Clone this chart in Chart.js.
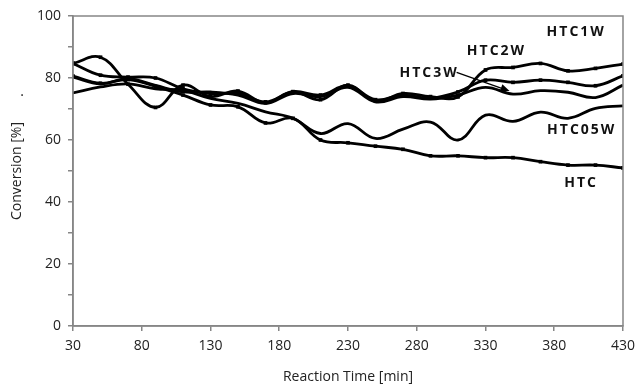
<!DOCTYPE html>
<html>
<head>
<meta charset="utf-8">
<script src="https://cdn.jsdelivr.net/npm/chart.js@4.4.1/dist/chart.umd.min.js"></script>
<style>
    html, body { margin: 0; padding: 0; background: #ffffff; }
    #wrap { width: 642px; height: 387px; }
</style>
</head>
<body>
<div id="wrap"><canvas id="conversionChart" width="642" height="387"></canvas></div>
<script>
// sampling times [min] and conversion [%] per catalyst
const reactionTimes = [30, 50, 70, 90, 110, 130, 150, 170, 190, 210, 230, 250, 270, 290, 310, 330, 350, 370, 390, 410, 430];
const htc = [80.6, 78.3, 79.5, 77.3, 74.5, 71.3, 70.7, 65.5, 67, 60, 59.1, 58, 57, 54.9, 54.9, 54.3, 54.3, 53, 51.9, 51.9, 51];
const htc05w = [75.2, 77.1, 78.1, 76.5, 76, 73.4, 71.8, 69.1, 67, 62.1, 65.3, 60.5, 63.5, 65.8, 60, 68, 66, 69, 67, 70.2, 71];
const htc1w = [84.7, 86.7, 78, 70.5, 77.7, 74, 75.8, 72, 75.5, 73, 77.7, 72.5, 75, 74, 73.9, 82.6, 83.4, 84.7, 82.3, 83.1, 84.5];
const htc2w = [84.7, 80.9, 80.3, 80, 76.5, 75, 75, 72.3, 75.6, 74.5, 77.5, 73, 74.5, 73.5, 75.5, 79.3, 78.6, 79.3, 78.6, 77.5, 80.7];
const htc3w = [80.3, 78.1, 79.8, 77.6, 75.5, 75.5, 74.5, 71.8, 75, 74, 77, 72.3, 74, 73.2, 74.5, 77, 74.8, 75.9, 75.4, 73.7, 77.7];
const xTickValues = [30, 80, 130, 180, 230, 280, 330, 380, 430];

const axisGray = '#868686';
const textColor = '#222222';

function toPoints(values) {
    return values.map(function (v, i) {
        return { x: reactionTimes[i], y: v };
    });
}

function makeSeries(label, values, showMarkers) {
    return {
        label: label,
        data: toPoints(values),
        borderColor: '#000000',
        backgroundColor: '#000000',
        borderWidth: 2.8,
        tension: 0.4,
        pointStyle: 'rect',
        pointRadius: showMarkers ? 2.6 : 0,
        pointBorderWidth: 0
    };
}

// series names written beside the curves, placed in data units
const curveLabels = [
    { text: 'HTC1W', t: 396, v: 94.9 },
    { text: 'HTC2W', t: 338, v: 88.8 },
    { text: 'HTC3W', t: 289, v: 81.5 },
    { text: 'HTC05W', t: 400, v: 63.2 },
    { text: 'HTC', t: 399.5, v: 46.1 }
];

const curveLabelPlugin = {
    id: 'curveLabels',
    afterDatasetsDraw: function (chart) {
        const ctx = chart.ctx;
        const x = chart.scales.x;
        const y = chart.scales.y;
        const area = chart.chartArea;

        ctx.save();

        // frame round the plot area
        ctx.strokeStyle = axisGray;
        ctx.lineWidth = 1.5;
        ctx.strokeRect(area.left, area.top, area.right - area.left, area.bottom - area.top);

        ctx.fillStyle = '#111111';
        ctx.font = 'bold 14px "Open Sans"';
        ctx.textAlign = 'center';
        ctx.textBaseline = 'middle';
        ctx.letterSpacing = '2px';
        curveLabels.forEach(function (item) {
            ctx.fillText(item.text, x.getPixelForValue(item.t), y.getPixelForValue(item.v));
        });
        ctx.letterSpacing = '0px';

        // pointer from the HTC3W label to its curve
        const x0 = x.getPixelForValue(309);
        const y0 = y.getPixelForValue(81.8);
        const x1 = x.getPixelForValue(347.5);
        const y1 = y.getPixelForValue(75.8);
        const angle = Math.atan2(y1 - y0, x1 - x0);
        ctx.strokeStyle = '#000000';
        ctx.lineWidth = 1.3;
        ctx.beginPath();
        ctx.moveTo(x0, y0);
        ctx.lineTo(x1 - 6 * Math.cos(angle), y1 - 6 * Math.sin(angle));
        ctx.stroke();
        ctx.fillStyle = '#000000';
        ctx.beginPath();
        ctx.moveTo(x1, y1);
        ctx.lineTo(x1 - 9 * Math.cos(angle) + 4 * Math.sin(angle), y1 - 9 * Math.sin(angle) - 4 * Math.cos(angle));
        ctx.lineTo(x1 - 9 * Math.cos(angle) - 4 * Math.sin(angle), y1 - 9 * Math.sin(angle) + 4 * Math.cos(angle));
        ctx.closePath();
        ctx.fill();

        // small dot left over beside the y title
        ctx.fillStyle = textColor;
        ctx.font = '14px "Open Sans"';
        ctx.fillText('.', area.left - 51, y.getPixelForValue(75.5));

        ctx.restore();
    }
};

function createConversionChart() {
    const canvas = document.getElementById('conversionChart');
    if (!canvas || typeof Chart === 'undefined') return;

    const tickFont = { family: '"Open Sans"', size: 14 };

    new Chart(canvas, {
        type: 'line',
        data: {
            datasets: [
                makeSeries('HTC', htc, true),
                makeSeries('HTC05W', htc05w, false),
                makeSeries('HTC1W', htc1w, true),
                makeSeries('HTC2W', htc2w, true),
                makeSeries('HTC3W', htc3w, false)
            ]
        },
        options: {
            responsive: false,
            animation: false,
            devicePixelRatio: 1,
            layout: {
                padding: { top: 16, right: 16, left: 0, bottom: 0 }
            },
            plugins: {
                legend: { display: false },
                tooltip: { enabled: false }
            },
            scales: {
                x: {
                    type: 'linear',
                    min: 30,
                    max: 430,
                    afterBuildTicks: function (scale) {
                        scale.ticks = xTickValues.map(function (v) { return { value: v }; });
                    },
                    afterFit: function (scale) { scale.height = 61; },
                    grid: {
                        drawOnChartArea: false,
                        color: axisGray,
                        lineWidth: 1.5,
                        tickLength: 5
                    },
                    border: { color: axisGray, width: 1.5 },
                    ticks: {
                        color: textColor,
                        font: tickFont,
                        padding: 7,
                        maxRotation: 0
                    },
                    title: {
                        display: true,
                        text: 'Reaction Time [min]',
                        color: textColor,
                        font: tickFont,
                        padding: { top: 0, bottom: 2 }
                    }
                },
                y: {
                    min: 0,
                    max: 100,
                    afterFit: function (scale) { scale.width = 73; },
                    grid: {
                        drawOnChartArea: false,
                        color: axisGray,
                        lineWidth: 1.5,
                        tickLength: 5
                    },
                    border: { color: axisGray, width: 1.5 },
                    ticks: {
                        stepSize: 10,
                        color: textColor,
                        font: tickFont,
                        padding: 7,
                        callback: function (value) {
                            return value % 20 === 0 ? value : '';
                        }
                    },
                    title: {
                        display: true,
                        text: 'Conversion [%]',
                        color: textColor,
                        font: tickFont,
                        padding: { top: 9, bottom: 0 }
                    }
                }
            }
        },
        plugins: [curveLabelPlugin]
    });
}

createConversionChart();
</script>
</body>
</html>
